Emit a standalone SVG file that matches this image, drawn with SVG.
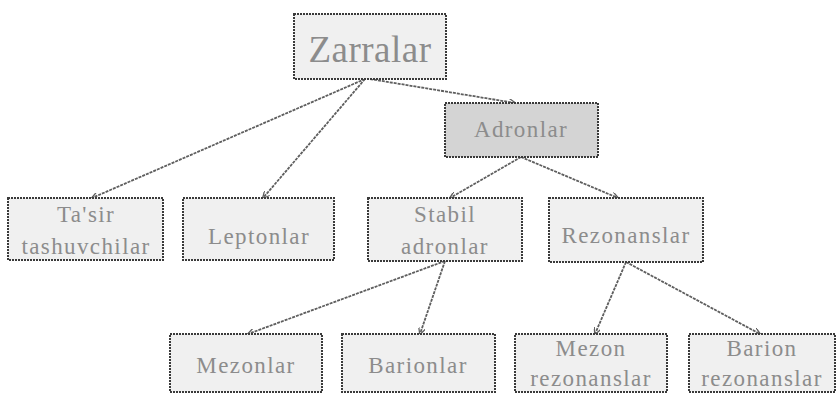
<svg xmlns="http://www.w3.org/2000/svg" width="838" height="396" viewBox="0 0 838 396">
  <style>
    .box { fill: #f0f0f0; stroke: #3a3a3a; stroke-width: 2; stroke-dasharray: 2 1; }
    .box.dark { fill: #d4d4d4; }
    .lbl { font-family: "Liberation Serif", "Times New Roman", serif; font-size: 23px; fill: #8c8c8c; text-anchor: middle; letter-spacing: 1.4px; }
    .title { font-size: 37px; letter-spacing: 0.5px; }
    .edge { stroke: #5e5e5e; stroke-width: 1.8; stroke-dasharray: 3 1; fill: none; marker-end: url(#arrow); }
  </style>
  <defs>
    <marker id="arrow" viewBox="0 0 10 10" refX="9" refY="5" markerWidth="7" markerHeight="7" orient="auto-start-reverse" markerUnits="userSpaceOnUse">
      <path d="M0,0 L10,5 L0,10" fill="none" stroke="#5e5e5e" stroke-width="1.8"/>
    </marker>
  </defs>
  <rect width="838" height="396" fill="#ffffff"/>

  <g id="connectors">
    <line class="edge" x1="365" y1="79" x2="92" y2="198"/>
    <line class="edge" x1="365" y1="79" x2="263" y2="198"/>
    <line class="edge" x1="370" y1="79" x2="515" y2="103"/>
    <line class="edge" x1="521" y1="157" x2="450" y2="198"/>
    <line class="edge" x1="521" y1="157" x2="618" y2="198"/>
    <line class="edge" x1="445" y1="261" x2="248" y2="334"/>
    <line class="edge" x1="445" y1="261" x2="420" y2="334"/>
    <line class="edge" x1="626" y1="262" x2="595" y2="334"/>
    <line class="edge" x1="626" y1="262" x2="760" y2="334"/>
  </g>

  <g id="zarralar">
    <rect class="box" x="294" y="14" width="152" height="65"/>
    <text class="lbl title" x="370" y="62">Zarralar</text>
  </g>

  <g id="adronlar">
    <rect class="box dark" x="445" y="103" width="153" height="54"/>
    <text class="lbl" x="521" y="137">Adronlar</text>
  </g>

  <g id="tasir-tashuvchilar">
    <rect class="box" x="8" y="198" width="155" height="62"/>
    <text class="lbl" x="86" y="222">Ta'sir</text>
    <text class="lbl" x="86" y="254">tashuvchilar</text>
  </g>

  <g id="leptonlar">
    <rect class="box" x="183" y="198" width="151" height="62"/>
    <text class="lbl" x="259" y="244">Leptonlar</text>
  </g>

  <g id="stabil-adronlar">
    <rect class="box" x="368" y="198" width="154" height="63"/>
    <text class="lbl" x="445" y="222">Stabil</text>
    <text class="lbl" x="445" y="254">adronlar</text>
  </g>

  <g id="rezonanslar">
    <rect class="box" x="549" y="198" width="154" height="64"/>
    <text class="lbl" x="626" y="243">Rezonanslar</text>
  </g>

  <g id="mezonlar">
    <rect class="box" x="170" y="334" width="152" height="58"/>
    <text class="lbl" x="246" y="373">Mezonlar</text>
  </g>

  <g id="barionlar">
    <rect class="box" x="342" y="334" width="153" height="58"/>
    <text class="lbl" x="418" y="373">Barionlar</text>
  </g>

  <g id="mezon-rezonanslar">
    <rect class="box" x="515" y="334" width="152" height="58"/>
    <text class="lbl" x="591" y="356">Mezon</text>
    <text class="lbl" x="591" y="386">rezonanslar</text>
  </g>

  <g id="barion-rezonanslar">
    <rect class="box" x="689" y="334" width="146" height="58"/>
    <text class="lbl" x="762" y="356">Barion</text>
    <text class="lbl" x="762" y="386">rezonanslar</text>
  </g>
</svg>
